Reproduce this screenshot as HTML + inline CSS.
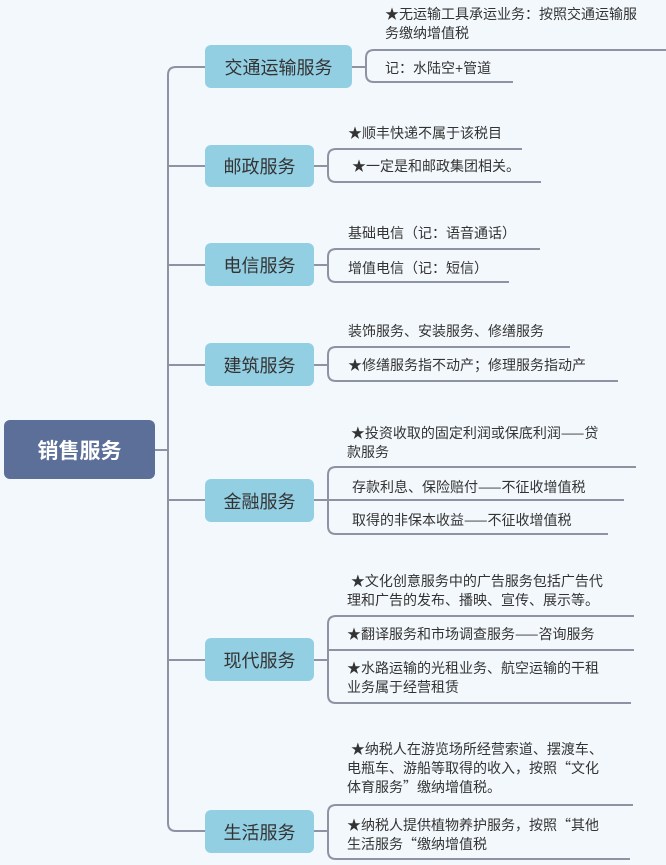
<!DOCTYPE html>
<html><head><meta charset="utf-8"><style>
body{margin:0;width:666px;height:865px;background:#f3f8fc;position:relative;overflow:hidden;font-family:"Liberation Sans","Noto Sans CJK SC",sans-serif}
.b{position:absolute;background:#93cfe3;border-radius:6px;color:#333;font-size:18px;display:flex;align-items:center;justify-content:center}
.t{position:absolute;font-size:14px;color:#333;line-height:19px;white-space:nowrap}
.c{font-family:"Noto Sans CJK SC",sans-serif}
svg{position:absolute;left:0;top:0}
</style></head><body>
<svg width="666" height="865" fill="none" stroke="#8d93a3" stroke-width="2">
<path d="M155 450H168"/>
<path d="M205 67H176Q168 67 168 75V823Q168 831 176 831H205"/>
<path d="M168 166H205M168 265H205M168 365H205M168 500H205M168 660H205"/>
<path d="M352 67H366"/><path d="M666 50H374Q366 50 366 58V74Q366 82 374 82H513"/>
<path d="M314 166H328"/><path d="M522 149H336Q328 149 328 157V174Q328 182 336 182H541"/>
<path d="M314 265H328"/><path d="M540 249H336Q328 249 328 257V274Q328 282 336 282H509"/>
<path d="M314 365H328"/><path d="M570 347H336Q328 347 328 355V373Q328 381 336 381H618"/>
<path d="M314 500H328"/><path d="M636 467H336Q328 467 328 475V526Q328 534 336 534H608"/><path d="M328 500H624"/>
<path d="M314 660H328"/><path d="M634 616H336Q328 616 328 624V695Q328 703 336 703H631"/><path d="M328 650H634"/>
<path d="M314 831H328"/><path d="M633 805H336Q328 805 328 813V851Q328 859 336 859H630"/>
</svg>
<div class="b" style="left:4px;top:420px;width:151px;height:59px;background:#5b6f99;color:#fff;font-size:21px;font-weight:bold">销售服务</div>
<div class="b" style="left:205px;top:45px;width:147px;height:43px">交通运输服务</div>
<div class="b" style="left:205px;top:145px;width:109px;height:42px">邮政服务</div>
<div class="b" style="left:205px;top:243px;width:109px;height:43px">电信服务</div>
<div class="b" style="left:205px;top:343px;width:109px;height:43px">建筑服务</div>
<div class="b" style="left:205px;top:479px;width:109px;height:43px">金融服务</div>
<div class="b" style="left:205px;top:638px;width:109px;height:43px">现代服务</div>
<div class="b" style="left:205px;top:810px;width:109px;height:43px">生活服务</div>

<div class="t" style="left:385px;top:5px">★无运输工具承运业务：按照交通运输服<br>务缴纳增值税</div>
<div class="t" style="left:385px;top:59px">记：水陆空+管道</div>
<div class="t" style="left:348px;top:124px">★顺丰快递不属于该税目</div>
<div class="t" style="left:352px;top:157px">★一定是和邮政集团相关。</div>
<div class="t" style="left:348px;top:224px">基础电信（记：语音通话）</div>
<div class="t" style="left:348px;top:259px">增值电信（记：短信）</div>
<div class="t" style="left:348px;top:322px">装饰服务、安装服务、修缮服务</div>
<div class="t" style="left:348px;top:356px">★修缮服务指不动产；修理服务指动产</div>
<div class="t" style="left:347px;top:424px">&nbsp;★投资收取的固定利润或保底利润<span class="c">——</span>贷<br>款服务</div>
<div class="t" style="left:352px;top:478px">存款利息、保险赔付<span class="c">——</span>不征收增值税</div>
<div class="t" style="left:352px;top:511px">取得的非保本收益<span class="c">——</span>不征收增值税</div>
<div class="t" style="left:347px;top:572px">&nbsp;★文化创意服务中的广告服务包括广告代<br>理和广告的发布、播映、宣传、展示等。</div>
<div class="t" style="left:347px;top:625px">★翻译服务和市场调查服务<span class="c">——</span>咨询服务</div>
<div class="t" style="left:347px;top:659px">★水路运输的光租业务、航空运输的干租<br>业务属于经营租赁</div>
<div class="t" style="left:347px;top:740px">&nbsp;★纳税人在游览场所经营索道、摆渡车、<br>电瓶车、游船等取得的收入，按照<span class="c">“</span>文化<br>体育服务<span class="c">”</span>缴纳增值税。</div>
<div class="t" style="left:347px;top:816px">★纳税人提供植物养护服务，按照<span class="c">“</span>其他<br>生活服务<span class="c">“</span>缴纳增值税</div>
</body></html>
